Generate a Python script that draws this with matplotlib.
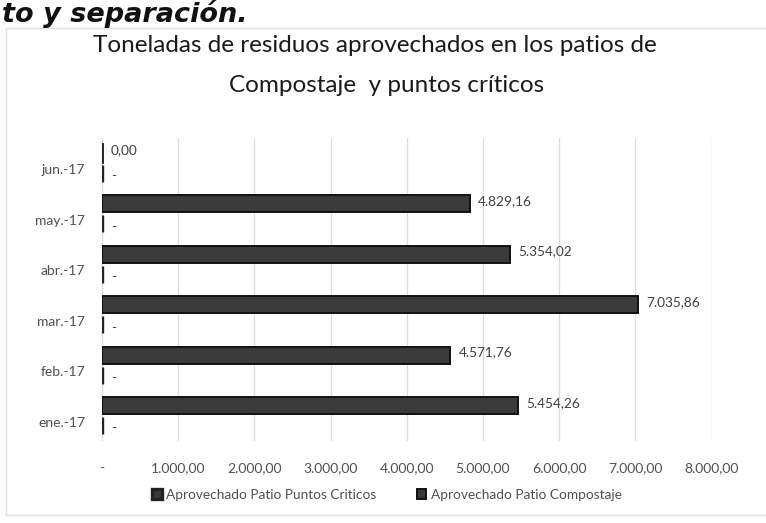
import matplotlib
matplotlib.use("Agg")
import matplotlib.pyplot as plt
from matplotlib.patches import Rectangle
import numpy as np

categories = ["ene.-17", "feb.-17", "mar.-17", "abr.-17", "may.-17", "jun.-17"]
compostaje = [5454.26, 4571.76, 7035.86, 5354.02, 4829.16, 0.00]
puntos_criticos = [0, 0, 0, 0, 0, 0]
xticks = [0, 1000, 2000, 3000, 4000, 5000, 6000, 7000, 8000]
title_lines = ["Toneladas de residuos aprovechados en los patios de",
               "Compostaje  y puntos críticos"]
heading = "to y separación."
series_names = ["Aprovechado Patio Puntos Criticos", "Aprovechado Patio Compostaje"]

plt.rcParams['font.family'] = ['Lato', 'DejaVu Sans']


def es_fmt(v):
    if v == 0:
        return "-"
    s = f"{v:,.2f}"
    return s.replace(",", "X").replace(".", ",").replace("X", ".")


def es_val(v):
    s = f"{v:,.2f}"
    return s.replace(",", "X").replace(".", ",").replace("X", ".")


fig = plt.figure(figsize=(7.66, 5.23), dpi=100)
ax = fig.add_axes([0.133, 0.157, 0.796, 0.579])

y = np.arange(len(categories))
off = 0.20
h = 0.34
dark = "#3a3a3a"

# Compostaje bars (upper in each group)
bars_c = ax.barh(y + off, compostaje, height=h, color=dark, edgecolor="#111111",
                 linewidth=1.4, label=series_names[1], zorder=3)
# Puntos criticos bars (zero values, lower in each group)
bars_p = ax.barh(y - off, puntos_criticos, height=h, color=dark, edgecolor="#222222",
                 linewidth=2.4, label=series_names[0], zorder=3)

# zero-value compostaje bar shows as a vertical mark
for yi, v in zip(y, compostaje):
    if v == 0:
        ax.plot([0, 0], [yi + off - h / 2, yi + off + h / 2], color="#222222", lw=2.8, zorder=4)

for yi, v in zip(y, compostaje):
    ax.annotate(es_val(v), (v, yi + off), xytext=(6, 2), textcoords="offset points",
                ha="left", va="center", fontsize=9.8, color="#404040")
for yi, v in zip(y, puntos_criticos):
    ax.annotate(es_fmt(v), (v, yi - off), xytext=(7, -2), textcoords="offset points",
                ha="left", va="center", fontsize=9.8, color="#404040")

ax.set_xlim(0, 8000)
ax.set_ylim(-0.5, len(categories) - 0.5)
ax.set_xticks(xticks)
ax.set_xticklabels([es_fmt(v) for v in xticks], fontsize=10, color="#505050")
ax.set_yticks(y - 0.12)
ax.set_yticklabels(categories, fontsize=10, color="#505050")
ax.tick_params(axis="both", length=0)
ax.tick_params(axis="x", pad=15)
ax.tick_params(axis="y", pad=12)
ax.grid(axis="x", color="#dcdcdc", linewidth=0.9, zorder=0)
for s in ax.spines.values():
    s.set_visible(False)

fig.text(0.49, 1 - 45 / 523, title_lines[0], ha="center", va="center",
         fontsize=17.5, color="#1a1a1a")
fig.text(0.505, 1 - 85 / 523, title_lines[1], ha="center", va="center",
         fontsize=17.5, color="#1a1a1a")

fig.text(0.002, 1 - 22 / 523, heading, ha="left", va="baseline",
         fontsize=19.5, fontweight="bold", fontstyle="italic",
         family=["DejaVu Sans"], color="#111111")

# chart area border
fig.patches.append(Rectangle((6 / 766, 1 - 515 / 523), 1.0, (515 - 28) / 523,
                             transform=fig.transFigure, fill=False,
                             edgecolor="#e0e0e0", linewidth=1.0))

handles = [bars_p, bars_c]
leg = fig.legend(handles, series_names, loc="center", ncol=2,
                 bbox_to_anchor=(0.505, 1 - 495 / 523), frameon=False,
                 fontsize=9.8, handlelength=0.7, handleheight=0.7,
                 handletextpad=0.3, columnspacing=3.0)
for t in leg.get_texts():
    t.set_color("#505050")

fig.savefig("out.png", dpi=100)
